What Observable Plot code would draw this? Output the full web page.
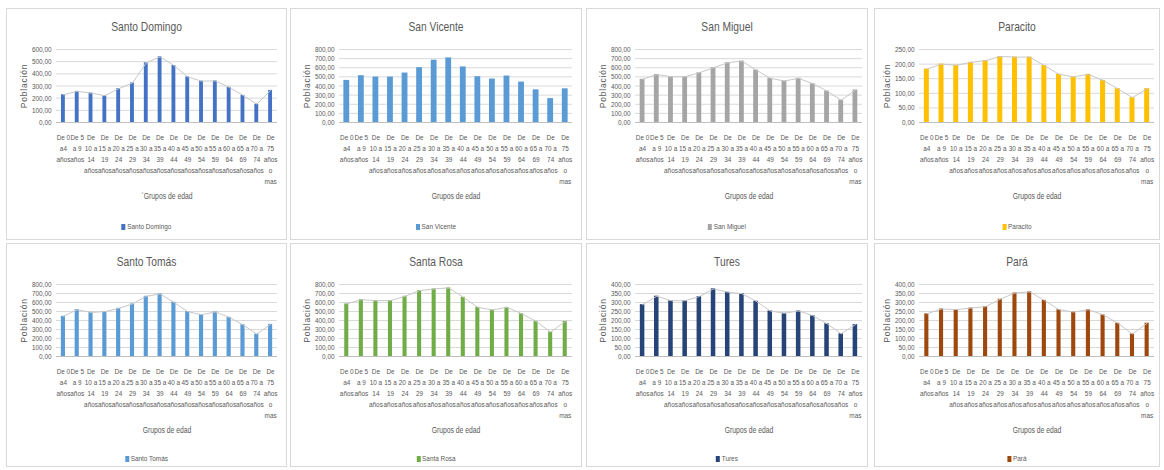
<!DOCTYPE html>
<html lang="es">
<head>
<meta charset="utf-8">
<script src="https://cdn.jsdelivr.net/npm/d3@7"></script>
<script src="https://cdn.jsdelivr.net/npm/@observablehq/plot@0.6"></script>
<style>
  html, body { margin: 0; padding: 0; background: #ffffff; }
  #board { position: relative; width: 1164px; height: 470px; overflow: hidden; background: #ffffff; }
  .panel { position: absolute; box-sizing: border-box; border: 1px solid #d9d9d9; background: #ffffff; }
  .panel .title { position: absolute; left: 0; right: 0; text-align: center; color: #595959;
    font-family: "Liberation Sans", Arial, sans-serif; font-size: 13.5px; line-height: 14px;
    transform: scaleX(0.76); transform-origin: center; }
  .panel svg { position: absolute; left: 0; }
  .panel .legend { position: absolute; left: 0; right: 0; text-align: center; color: #595959;
    font-family: "Liberation Sans", Arial, sans-serif; font-size: 8px; line-height: 10px;
    transform: scaleX(0.8); transform-origin: center; }
  .panel .legend .swatch { display: inline-block; width: 5px; height: 6px; margin-right: 2px; vertical-align: -0.5px; }
</style>
</head>
<body>
<div id="board"></div>
<script>
// Age groups (x axis), with the line breaks used for the tick labels
const ageGroups = [
  "De 0\na4\naños", "De 5\na 9\naños", "De\n10 a\n14\naños", "De\n15 a\n19\naños",
  "De\n20 a\n24\naños", "De\n25 a\n29\naños", "De\n30 a\n34\naños", "De\n35 a\n39\naños",
  "De\n40 a\n44\naños", "De\n45 a\n49\naños", "De\n50 a\n54\naños", "De\n55 a\n59\naños",
  "De\n60 a\n64\naños", "De\n65 a\n69\naños", "De\n70 a\n74\naños", "De\n75\naños\no\nmas"
];

// Population per age group for each locality
const santoDomingo = [228, 256, 242, 220, 278, 325, 490, 540, 468, 375, 340, 342, 289, 223, 151, 264];
const sanVicente   = [461, 513, 498, 498, 542, 601, 683, 708, 609, 502, 476, 509, 443, 358, 262, 369];
const sanMiguel    = [473, 527, 502, 502, 545, 600, 655, 673, 575, 484, 455, 484, 425, 345, 244, 356];
const paracito     = [183, 200, 196, 206, 212, 226, 224, 224, 195, 165, 156, 165, 144, 116, 85, 116];
const santoTomas   = [446, 520, 490, 498, 535, 584, 669, 695, 602, 498, 465, 495, 435, 353, 249, 357];
const santaRosa    = [584, 632, 621, 621, 669, 732, 751, 762, 658, 546, 517, 546, 476, 390, 271, 390];
const tures        = [288, 335, 310, 310, 333, 376, 357, 349, 307, 253, 240, 253, 227, 182, 126, 177];
const para         = [237, 264, 260, 269, 277, 318, 353, 359, 312, 260, 247, 260, 232, 185, 125, 185];

const localities = ["Santo Domingo", "San Vicente", "San Miguel", "Paracito", "Santo Tomás", "Santa Rosa", "Tures", "Pará"];
const series = [santoDomingo, sanVicente, sanMiguel, paracito, santoTomas, santaRosa, tures, para];

// Y axis extent and tick step per locality
const yMax  = [600, 800, 800, 250, 800, 800, 400, 400];
const yStep = [100, 100, 100, 50, 100, 100, 50, 50];

const xTitles = ["´Grupos de edad", "Grupos de edad", "Grupos de edad", "Grupos de edad",
                 "Grupos de edad", "Grupos de edad", "Grupos de edad", "Grupos de edad"];
const yTitle = "Población";

// Styling per panel
const colors   = ["#4472C4", "#5B9BD5", "#A5A5A5", "#FFC000", "#5B9BD5", "#70AD47", "#264478", "#9E480E"];
const hasTrend = [true, false, true, true, true, true, true, true];
const barGap   = [0.72, 0.6, 0.66, 0.66, 0.7, 0.72, 0.68, 0.72]; // share of each category slot left empty

// Grid layout of the small multiples
const columns = [
  {x: 6,   w: 281, ml: 49, mr: 9},
  {x: 290, w: 292, ml: 48, mr: 9},
  {x: 586, w: 282, ml: 48, mr: 5},
  {x: 874, w: 286, ml: 44, mr: 5}
];
const rows = [
  {y: 8,   h: 232, plotTop: 40, plotBottom: 113, legend: 213},
  {y: 243, h: 224, plotTop: 40, plotBottom: 112, legend: 210}
];

const font = '"Liberation Sans", Arial, sans-serif';
const fmt = d => d.toFixed(2).replace(".", ",");

// Condense SVG labels horizontally around their anchor point
function condense(svg, factor, skip) {
  svg.querySelectorAll("text").forEach(t => {
    if (t.textContent === skip) return;
    const tr = t.getAttribute("transform");
    if (tr) t.setAttribute("transform", `${tr} scale(${factor},1)`);
  });
}

const board = document.getElementById("board");

localities.forEach((name, i) => {
  const col = columns[i % 4], row = rows[Math.floor(i / 4)];
  const panel = document.createElement("div");
  panel.className = "panel";
  Object.assign(panel.style, {left: col.x + "px", top: row.y + "px", width: col.w + "px", height: row.h + "px"});

  const title = document.createElement("div");
  title.className = "title";
  title.style.top = "11px";
  title.textContent = name;
  panel.appendChild(title);

  const data = ageGroups.map((g, k) => ({group: g, value: series[i][k]}));
  const ticks = d3.range(0, yMax[i] + yStep[i] / 2, yStep[i]);
  const svgTop = 30, svgH = 170;
  const width = col.w - 2;
  const slot = (width - col.ml - col.mr) / ageGroups.length;
  const inset = slot * barGap[i] / 2;

  const marks = [
    Plot.gridY(ticks, {stroke: "#d9d9d9", strokeOpacity: 1}),
    Plot.ruleY([0], {stroke: "#bfbfbf"}),
    Plot.barY(data, {x: "group", y: "value", fill: colors[i], insetLeft: inset, insetRight: inset}),
    Plot.axisY(ticks, {tickSize: 0, tickPadding: 5, tickFormat: fmt, label: null, fontSize: 8, fill: "#595959"}),
    Plot.axisX({tickSize: 0, tickPadding: 10, label: null, fontSize: 8, lineHeight: 1.37, fill: "#595959"}),
    Plot.text([xTitles[i]], {text: d => d, frameAnchor: "bottom", dy: 76, fontSize: 8.5, fill: "#595959"}),
    Plot.text([yTitle], {text: d => d, frameAnchor: "left", dx: -32, rotate: -90, textAnchor: "middle",
                         fontSize: 8.5, fill: "#595959"})
  ];
  if (hasTrend[i]) {
    marks.splice(3, 0, Plot.line(data, {x: "group", y: "value", stroke: "#c8c8c8", strokeWidth: 1}));
  }
  const chart = Plot.plot({
    width,
    height: svgH,
    marginLeft: col.ml,
    marginRight: col.mr,
    marginTop: row.plotTop - svgTop,
    marginBottom: svgH - (row.plotBottom - svgTop),
    style: {fontFamily: font, color: "#595959", background: "transparent", overflow: "visible"},
    x: {domain: ageGroups, padding: 0, round: false, axis: null},
    y: {domain: [0, yMax[i]], axis: null},
    marks
  });
  chart.style.top = svgTop + "px";
  condense(chart, 0.8, yTitle);
  chart.querySelectorAll("text").forEach(t => {
    if (t.textContent === yTitle) t.style.letterSpacing = "0.8px";
  });
  panel.appendChild(chart);

  const legend = document.createElement("div");
  legend.className = "legend";
  legend.style.top = row.legend + "px";
  const sw = document.createElement("span");
  sw.className = "swatch";
  sw.style.background = colors[i];
  legend.appendChild(sw);
  legend.appendChild(document.createTextNode(name));
  panel.appendChild(legend);

  board.appendChild(panel);
});
</script>
</body>
</html>
